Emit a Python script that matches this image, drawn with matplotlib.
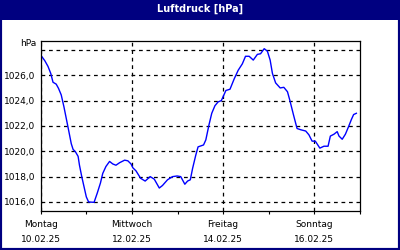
import matplotlib
matplotlib.use("Agg")
import matplotlib.pyplot as plt
from matplotlib.patches import Rectangle

# time in days since Montag 10.02.25 00:00, pressure in hPa
days = [0.00, 0.09, 0.16, 0.22, 0.27, 0.34, 0.39, 0.45, 0.51, 0.56,
        0.61, 0.67, 0.71, 0.76, 0.82, 0.85, 0.90, 0.95, 1.00, 1.05,
        1.17, 1.24, 1.31, 1.36, 1.43, 1.51, 1.58, 1.65, 1.73, 1.84,
        1.91, 1.98, 2.02, 2.09, 2.19, 2.29, 2.40, 2.49, 2.60, 2.67,
        2.78, 2.89, 2.99, 3.07, 3.16, 3.22, 3.28, 3.33, 3.40, 3.45,
        3.57, 3.62, 3.69, 3.75, 3.82, 3.89, 3.96, 4.06, 4.15, 4.24,
        4.33, 4.42, 4.49, 4.57, 4.66, 4.75, 4.82, 4.90, 4.97, 5.03,
        5.08, 5.15, 5.25, 5.33, 5.41, 5.46, 5.54, 5.62, 5.70, 5.81,
        5.88, 5.95, 6.02, 6.12, 6.21, 6.30, 6.35, 6.43, 6.50, 6.54,
        6.61, 6.68, 6.75, 6.81, 6.86, 6.92]
pressure = [1027.6, 1027.15, 1026.7, 1026.15, 1025.45, 1025.3, 1024.97, 1024.45, 1023.5, 1022.6,
            1021.7, 1020.6, 1020.15, 1019.97, 1019.6, 1018.9, 1018.0, 1017.2, 1016.4, 1016.0,
            1015.97, 1016.7, 1017.5, 1018.25, 1018.8, 1019.2, 1019.0, 1018.9, 1019.1, 1019.3,
            1019.25, 1019.0, 1018.7, 1018.45, 1017.87, 1017.65, 1018.0, 1017.8, 1017.1, 1017.3,
            1017.75, 1018.0, 1018.05, 1018.0, 1017.4, 1017.65, 1017.75, 1018.65, 1019.7, 1020.35,
            1020.5, 1020.9, 1022.1, 1023.0, 1023.6, 1023.9, 1024.0, 1024.8, 1024.9, 1025.7,
            1026.4, 1026.9, 1027.5, 1027.5, 1027.2, 1027.65, 1027.7, 1028.1, 1027.9, 1027.2,
            1026.15, 1025.4, 1025.0, 1025.05, 1024.7, 1024.05, 1022.9, 1021.8, 1021.7, 1021.6,
            1021.3, 1020.8, 1020.8, 1020.25, 1020.4, 1020.4, 1021.2, 1021.35, 1021.55, 1021.2,
            1020.95, 1021.35, 1021.95, 1022.5, 1022.9, 1023.0]

y_ticks = [1016, 1018, 1020, 1022, 1024, 1026, 1028]
x_major = [0, 2, 4, 6]
x_minor = [1, 3, 5, 7]
x_labels = ["Montag\n10.02.25", "Mittwoch\n12.02.25", "Freitag\n14.02.25", "Sonntag\n16.02.25"]

navy = "#000080"
fs = 6.5

fig = plt.figure(figsize=(4, 2.5), dpi=100, facecolor="white")

# frame + title bar
fig.patches.append(Rectangle((0, 0), 1, 1, transform=fig.transFigure,
                             fill=False, edgecolor=navy, linewidth=3, zorder=0))
fig.patches.append(Rectangle((0, 1 - 20 / 250), 1, 20 / 250, transform=fig.transFigure,
                             facecolor=navy, edgecolor="none", zorder=1))
fig.text(0.5, 1 - 9 / 250, "Luftdruck [hPa]", color="white", fontsize=7,
         fontweight="bold", ha="center", va="center")

ax = fig.add_axes([40.7 / 400, 1 - 210.7 / 250, (360 - 40.7) / 400, (210.7 - 40.7) / 250])
ax.plot(days, pressure, color="#0000ff", linewidth=1)

ax.set_xlim(0, 7)
ax.set_ylim(1015.31, 1028.73)

ax.set_yticks(y_ticks)
ax.set_yticklabels([f"{v},0" for v in y_ticks[:-1]] + [""], fontsize=fs)
ax.tick_params(axis="y", length=0, pad=4)

ax.set_xticks(x_major)
ax.set_xticklabels(x_labels, fontsize=fs, linespacing=1.9)
ax.set_xticks(x_minor, minor=True)
ax.tick_params(axis="x", which="both", direction="out", length=2.5, width=0.8, pad=4)

ax.grid(True, which="major", color="black", linestyle=(0, (3, 3)), linewidth=0.9)

for s in ax.spines.values():
    s.set_color("black")
    s.set_linewidth(0.9)

fig.text(36 / 400, 1 - 44 / 250, "hPa", fontsize=fs, ha="right", va="center")

fig.savefig("out.png", dpi=100, facecolor="white")
